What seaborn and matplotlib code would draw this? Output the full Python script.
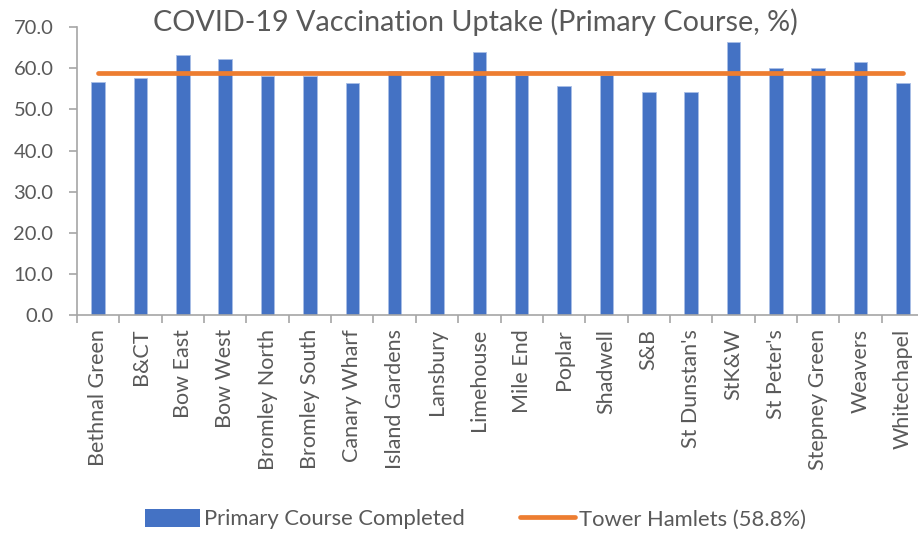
import numpy as np
import pandas as pd
import matplotlib
matplotlib.use("Agg")
import matplotlib.pyplot as plt
from matplotlib.patches import Patch
from matplotlib.lines import Line2D
import seaborn as sns

# ── Data ──────────────────────────────────────────────────────────────────────
wards = ["Bethnal Green", "B&CT", "Bow East", "Bow West", "Bromley North",
         "Bromley South", "Canary Wharf", "Island Gardens", "Lansbury",
         "Limehouse", "Mile End", "Poplar", "Shadwell", "S&B", "St Dunstan's",
         "StK&W", "St Peter's", "Stepney Green", "Weavers", "Whitechapel"]
uptake = [56.7, 57.7, 63.2, 62.2, 58.2, 58.2, 56.5, 59.3, 58.3, 63.9,
          58.3, 55.7, 58.3, 54.2, 54.2, 66.4, 60.0, 60.0, 61.6, 56.5]
borough_avg = 58.8

BAR_CLR = "#4472C4"
LINE_CLR = "#ED7D31"
TEXT_CLR = "#595959"
AXIS_CLR = "#A6A6A6"

sns.set_theme(style="white")
plt.rcParams["font.family"] = ["Lato", "DejaVu Sans"]

df = pd.DataFrame({"ward": wards, "uptake": uptake})

fig = plt.figure(figsize=(9.18, 5.34), dpi=100)
ax = fig.add_axes([0.0839, 0.410, 0.9227, 0.539])

sns.barplot(data=df, x="ward", y="uptake", color=BAR_CLR, width=0.32,
            saturation=1, ax=ax, order=wards, edgecolor="#A9BEE6", linewidth=0.6)
ax.hlines(borough_avg, 0, len(wards) - 1, color=LINE_CLR, linewidth=3.4,
          capstyle="round", zorder=3)

ax.set_xlim(-0.5, len(wards) - 0.5)
ax.set_ylim(0, 70)
ax.set_yticks(np.arange(0, 71, 10))
ax.set_yticklabels([f"{v:.1f}" for v in np.arange(0, 71, 10)])
ax.set_xlabel("")
ax.set_ylabel("")
ax.set_xticks(range(len(wards)))
ax.set_xticklabels(wards, rotation=90)
ax.set_xticks(np.arange(-0.5, len(wards), 1), minor=True)

for side in ["top", "right"]:
    ax.spines[side].set_visible(False)
for side in ["left", "bottom"]:
    ax.spines[side].set_color(AXIS_CLR)
    ax.spines[side].set_linewidth(1.2)

ax.tick_params(axis="y", which="major", left=True, length=6, width=1.2,
               color=AXIS_CLR, labelsize=14.5, labelcolor=TEXT_CLR, pad=11)
ax.tick_params(axis="x", which="major", bottom=False, labelsize=15.5,
               labelcolor=TEXT_CLR, pad=4)
ax.tick_params(axis="x", which="minor", bottom=True, length=6, width=1.2,
               color=AXIS_CLR)

fig.text(0.518, 0.958, "COVID-19 Vaccination Uptake (Primary Course, %)",
         ha="center", va="center", fontsize=20.7, color=TEXT_CLR)

handles = [Patch(facecolor=BAR_CLR, edgecolor="none"),
           Line2D([0], [0], color=LINE_CLR, linewidth=3.4, solid_capstyle="round")]
fig.legend(handles, ["Primary Course Completed", "Tower Hamlets (58.8%)"],
           loc="center", bbox_to_anchor=(0.518, 0.028), ncol=2, frameon=False,
           fontsize=15.8, labelcolor=TEXT_CLR, handlelength=2.5,
           handleheight=0.9, handletextpad=0.2, columnspacing=2.5)

fig.savefig("out.png", dpi=100)
